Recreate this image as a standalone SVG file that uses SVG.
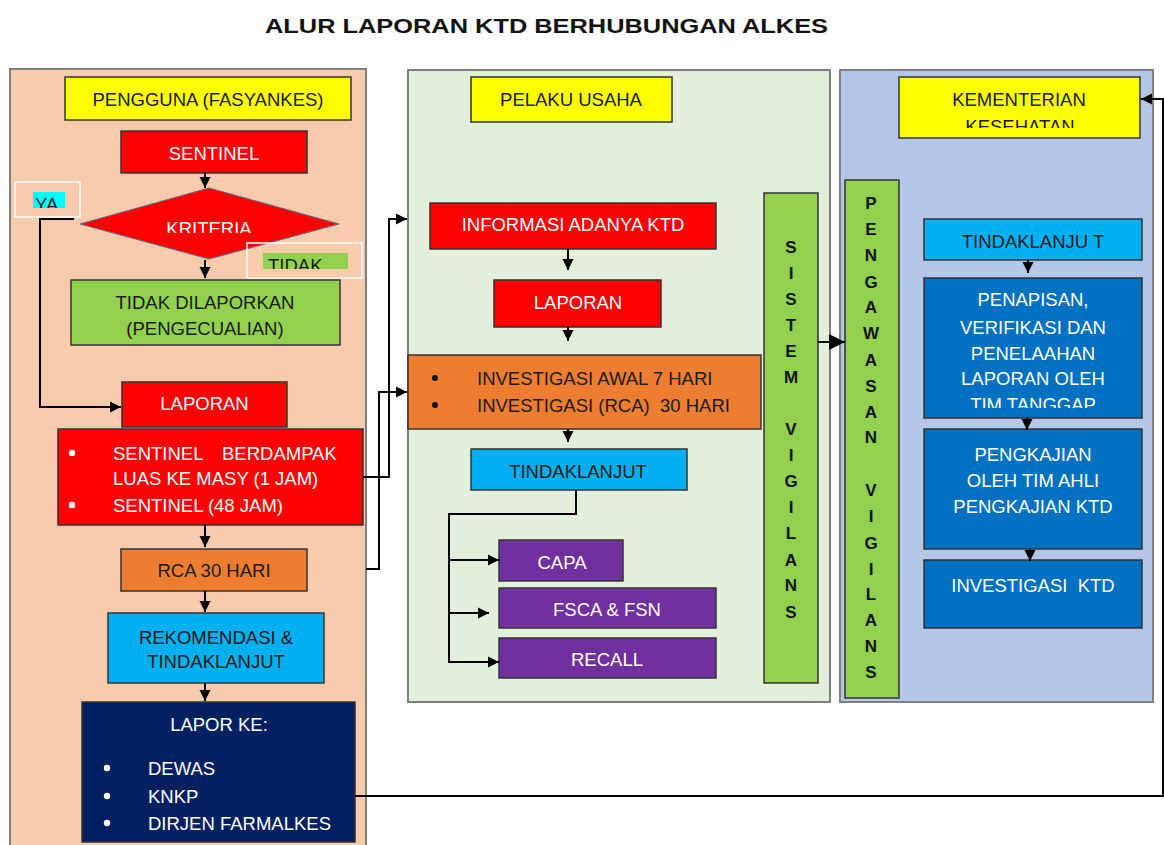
<svg xmlns="http://www.w3.org/2000/svg" width="1164" height="845" viewBox="0 0 1164 845">
<defs>
<style>
.t{font-family:"Liberation Sans",Arial,sans-serif;font-size:18.5px;text-anchor:middle}
.l{font-family:"Liberation Sans",Arial,sans-serif;font-size:18.5px}
.w{fill:#ffffff}
.d{fill:#1a1a1a}
.v{font-family:"Liberation Sans",Arial,sans-serif;font-size:17px;font-weight:bold;text-anchor:middle;fill:#111}
.box{stroke:#333;stroke-width:1.5}
.panel{stroke:#7f7f7f;stroke-width:2}
.c{fill:none;stroke:#000;stroke-width:2}
</style>
<marker id="ah" viewBox="0 0 10 10" refX="10" refY="5" markerWidth="11" markerHeight="12" markerUnits="userSpaceOnUse" orient="auto"><path d="M0,0 L10,5 L0,10 z" fill="#000"/></marker>
<marker id="big" viewBox="0 0 10 10" refX="10" refY="5" markerWidth="22" markerHeight="16" markerUnits="userSpaceOnUse" orient="auto"><path d="M0,0 L10,5 L0,10 z" fill="#000"/></marker>
<clipPath id="cYA"><rect x="15" y="180" width="70" height="28"/></clipPath>
<clipPath id="cTD"><rect x="250" y="245" width="110" height="24"/></clipPath>
<clipPath id="cKR"><rect x="120" y="190" width="200" height="43"/></clipPath>
<clipPath id="cKS"><rect x="900" y="78" width="240" height="50"/></clipPath>
<clipPath id="cTT"><rect x="925" y="280" width="216" height="128"/></clipPath>
</defs>

<rect width="1164" height="845" fill="#fff"/>
<text x="265" y="33" font-family="'Liberation Sans',Arial,sans-serif" font-size="21" font-weight="bold" textLength="563" lengthAdjust="spacingAndGlyphs" fill="#111">ALUR LAPORAN KTD BERHUBUNGAN ALKES</text>

<g id="panel-pengguna"><rect class="panel" x="10" y="69" width="356" height="800" fill="#F8CBAD"/></g>
<g id="panel-pelaku"><rect class="panel" x="408" y="70" width="422" height="632" fill="#E2EFDA"/></g>
<g id="panel-kemenkes"><rect class="panel" x="840" y="70" width="313" height="632" fill="#B4C7E7"/></g>

<g id="n-pengguna"><rect class="box" x="65" y="77" width="286" height="43" fill="#FFFF00"/><text class="t d" x="208" y="105.5">PENGGUNA (FASYANKES)</text></g>
<g id="n-sentinel"><rect class="box" x="121" y="131" width="186" height="42" fill="#FF0000"/><text class="t w" x="214" y="159.5">SENTINEL</text></g>
<g id="n-kriteria"><polygon points="80,224 209,188 339,224 209,259" fill="#FF0000" stroke="#5a6a8a" stroke-width="1"/><text class="t w" x="209" y="235" clip-path="url(#cKR)">KRITERIA</text></g>
<g id="n-ya"><rect x="15" y="182" width="65" height="35" fill="none" stroke="#fff" stroke-width="1.5"/><rect x="33" y="192" width="32" height="16" fill="#00FFFF"/><text class="l d" x="35" y="211" clip-path="url(#cYA)">YA</text></g>
<g id="n-tidak"><rect x="247" y="243" width="115" height="35" fill="none" stroke="#fff" stroke-width="1.5"/><rect x="263" y="253" width="85" height="16" fill="#92D050"/><text class="l d" x="268" y="272" clip-path="url(#cTD)">TIDAK</text></g>
<g id="n-tidakdilaporkan"><rect class="box" x="71" y="280" width="269" height="65" fill="#92D050"/><text class="t d" x="205" y="308.5">TIDAK DILAPORKAN</text><text class="t d" x="205" y="334.5">(PENGECUALIAN)</text></g>
<g id="n-laporan1"><rect class="box" x="122" y="382" width="165" height="45" fill="#FF0000"/><text class="t w" x="204.5" y="409.5">LAPORAN</text></g>
<g id="n-sentinel2"><rect class="box" x="58" y="429" width="305" height="96" fill="#FF0000"/>
<circle cx="72" cy="453" r="3.2" fill="#fff"/><circle cx="72" cy="505" r="3.2" fill="#fff"/>
<text class="l w" y="459.5"><tspan x="113">SENTINEL</tspan><tspan x="222">BERDAMPAK</tspan></text>
<text class="l w" x="113" y="484.5">LUAS KE MASY (1 JAM)</text>
<text class="l w" x="113" y="511.5">SENTINEL (48 JAM)</text></g>
<g id="n-rca"><rect class="box" x="121" y="549" width="186" height="42" fill="#ED7D31"/><text class="t d" x="214" y="576.5">RCA 30 HARI</text></g>
<g id="n-rekom"><rect class="box" x="108" y="613" width="216" height="70" fill="#00B0F0"/><text class="t d" x="216" y="643.5">REKOMENDASI &amp;</text><text class="t d" x="216" y="667.5">TINDAKLANJUT</text></g>
<g id="n-lapor"><rect class="box" x="82" y="702" width="273" height="140" fill="#002060"/><text class="t w" x="219" y="730.5">LAPOR KE:</text>
<circle cx="107" cy="768" r="3.2" fill="#fff"/><circle cx="107" cy="796" r="3.2" fill="#fff"/><circle cx="107" cy="823" r="3.2" fill="#fff"/>
<text class="l w" x="148" y="774.5">DEWAS</text><text class="l w" x="148" y="802.5">KNKP</text><text class="l w" x="148" y="829.5">DIRJEN FARMALKES</text></g>

<g id="n-pelaku"><rect class="box" x="471" y="77" width="201" height="45" fill="#FFFF00"/><text class="t d" x="571" y="105.5">PELAKU USAHA</text></g>
<g id="n-informasi"><rect class="box" x="430" y="203" width="286" height="46" fill="#FF0000"/><text class="t w" x="573" y="230.5">INFORMASI ADANYA KTD</text></g>
<g id="n-laporan2"><rect class="box" x="494" y="280" width="167" height="47" fill="#FF0000"/><text class="t w" x="578" y="308.5">LAPORAN</text></g>
<g id="n-investigasi"><rect class="box" x="408" y="355" width="353" height="74" fill="#ED7D31"/>
<circle cx="435" cy="378" r="3" fill="#111"/><circle cx="435" cy="405" r="3" fill="#111"/>
<text class="l d" x="477" y="384.5">INVESTIGASI AWAL 7 HARI</text><text class="l d" x="477" y="411.5" xml:space="preserve">INVESTIGASI (RCA)  30 HARI</text></g>
<g id="n-tindak1"><rect class="box" x="471" y="449" width="216" height="41" fill="#00B0F0"/><text class="t d" x="578" y="477.5">TINDAKLANJUT</text></g>
<g id="n-capa"><rect class="box" x="499" y="540" width="124" height="41" fill="#7030A0"/><text class="t w" x="562" y="568.5">CAPA</text></g>
<g id="n-fsca"><rect class="box" x="499" y="588" width="217" height="40" fill="#7030A0"/><text class="t w" x="607" y="615.5">FSCA &amp; FSN</text></g>
<g id="n-recall"><rect class="box" x="499" y="638" width="217" height="40" fill="#7030A0"/><text class="t w" x="607" y="665.5">RECALL</text></g>
<g id="n-sistem"><rect class="box" x="764" y="193" width="54" height="490" fill="#92D050"/>
<text class="v" x="791" y="253">S</text><text class="v" x="791" y="279">I</text><text class="v" x="791" y="305">S</text><text class="v" x="791" y="331">T</text><text class="v" x="791" y="357">E</text><text class="v" x="791" y="383">M</text>
<text class="v" x="791" y="435">V</text><text class="v" x="791" y="461">I</text><text class="v" x="791" y="487">G</text><text class="v" x="791" y="513">I</text><text class="v" x="791" y="539">L</text><text class="v" x="791" y="566">A</text><text class="v" x="791" y="591">N</text><text class="v" x="791" y="618">S</text></g>

<g id="n-kemenkes"><rect class="box" x="899" y="77" width="241" height="61" fill="#FFFF00"/><text class="t d" x="1019" y="105.5">KEMENTERIAN</text><text class="t d" x="1020" y="133" clip-path="url(#cKS)">KESEHATAN</text></g>
<g id="n-pengawasan"><rect class="box" x="845" y="180" width="54" height="518" fill="#92D050"/>
<text class="v" x="871" y="209">P</text><text class="v" x="871" y="235">E</text><text class="v" x="871" y="261">N</text><text class="v" x="871" y="288">G</text><text class="v" x="871" y="313">A</text><text class="v" x="871" y="339">W</text><text class="v" x="871" y="366">A</text><text class="v" x="871" y="392">S</text><text class="v" x="871" y="418">A</text><text class="v" x="871" y="443">N</text>
<text class="v" x="871" y="496">V</text><text class="v" x="871" y="522">I</text><text class="v" x="871" y="549">G</text><text class="v" x="871" y="575">I</text><text class="v" x="871" y="600">L</text><text class="v" x="871" y="626">A</text><text class="v" x="871" y="652">N</text><text class="v" x="871" y="678">S</text></g>
<g id="n-tindak2"><rect class="box" x="924" y="219" width="218" height="41" fill="#00B0F0"/><text class="t d" x="1033" y="247.5">TINDAKLANJU T</text></g>
<g id="n-penapisan"><rect class="box" x="924" y="278" width="218" height="140" fill="#0070C0"/>
<text class="t w" x="1033" y="305.5">PENAPISAN,</text><text class="t w" x="1033" y="333.5">VERIFIKASI DAN</text><text class="t w" x="1033" y="359.5">PENELAAHAN</text><text class="t w" x="1033" y="384.5">LAPORAN OLEH</text><text class="t w" x="1033" y="411" clip-path="url(#cTT)">TIM TANGGAP</text></g>
<g id="n-pengkajian"><rect class="box" x="924" y="429" width="218" height="120" fill="#0070C0"/>
<text class="t w" x="1033" y="460.5">PENGKAJIAN</text><text class="t w" x="1033" y="486.5">OLEH TIM AHLI</text><text class="t w" x="1033" y="512.5">PENGKAJIAN KTD</text></g>
<g id="n-investigasi-ktd"><rect class="box" x="924" y="560" width="218" height="68" fill="#0070C0"/><text class="t w" x="1033" y="591.5" xml:space="preserve">INVESTIGASI  KTD</text></g>

<g id="connectors">
<line class="c" x1="205" y1="173" x2="205" y2="188" marker-end="url(#ah)"/>
<line class="c" x1="205" y1="260" x2="205" y2="278" marker-end="url(#ah)"/>
<line class="c" x1="205" y1="525" x2="205" y2="547" marker-end="url(#ah)"/>
<line class="c" x1="205" y1="591" x2="205" y2="612" marker-end="url(#ah)"/>
<line class="c" x1="205" y1="683" x2="205" y2="701" marker-end="url(#ah)"/>
<polyline class="c" points="74,219 40,219 40,407 121,407" marker-end="url(#ah)"/>
<polyline class="c" points="363,477 389,477 389,219 407,219" marker-end="url(#ah)"/>
<polyline class="c" points="366,569 379,569 379,392 407,392" marker-end="url(#ah)"/>
<line class="c" x1="568" y1="249" x2="568" y2="270" marker-end="url(#ah)"/>
<line class="c" x1="568" y1="327" x2="568" y2="341" marker-end="url(#ah)"/>
<line class="c" x1="568" y1="429" x2="568" y2="442" marker-end="url(#ah)"/>
<polyline class="c" points="576,490 576,514 449,514 449,662 499,662" marker-end="url(#ah)"/>
<line class="c" x1="449" y1="560" x2="499" y2="560" marker-end="url(#ah)"/>
<line class="c" x1="449" y1="613" x2="489" y2="613" marker-end="url(#ah)"/>
<line class="c" x1="818" y1="342" x2="845" y2="342" marker-end="url(#big)"/>
<line class="c" x1="1028" y1="260" x2="1028" y2="273" marker-end="url(#ah)"/>
<line class="c" x1="1027" y1="418" x2="1027" y2="430" marker-end="url(#ah)"/>
<line class="c" x1="1030" y1="549" x2="1030" y2="561" marker-end="url(#ah)"/>
<polyline class="c" points="355,796 1163,796 1163,99 1141,99" marker-end="url(#ah)"/>
</g>
</svg>
